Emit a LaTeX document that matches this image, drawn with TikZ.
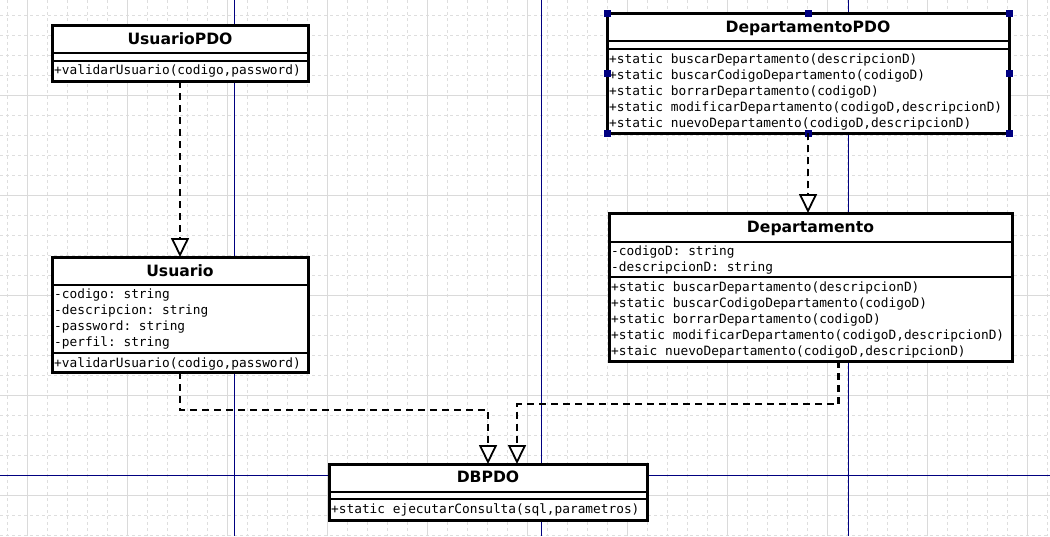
\documentclass[tikz,border=0pt]{standalone}
\usepackage{fontspec}
\setmainfont{DejaVu Sans}
\setmonofont{DejaVu Sans Mono}
\usetikzlibrary{arrows.meta}
\definecolor{gridgray}{RGB}{222,222,222}
\definecolor{gridsolid}{RGB}{218,218,218}
\definecolor{axisnavy}{RGB}{0,0,128}
\tikzset{
  classbox/.style={draw,line width=3pt,fill=white,inner sep=0pt,outer sep=0pt},
  classtitle/.style={font=\fontsize{15.6}{18}\selectfont\bfseries,anchor=base,inner sep=0pt},
  members/.style={font=\fontsize{12.8}{16}\selectfont\ttfamily,align=left,anchor=base west,inner sep=0pt},
  compline/.style={line width=2.6pt},
  dep/.style={line width=2.5pt,dash pattern=on 7pt off 5pt,
    -{Triangle[open,width=18pt,length=19pt,fill=white,line width=1.8pt]}}
}
\begin{document}
\begin{tikzpicture}[x=1pt,y=-1pt]
\useasboundingbox (0,0) rectangle (1050,536);
\fill[white] (0,0) rectangle (1050,536);
% grid
\foreach \x in {7,27,...,1047} \draw[gridgray,line width=.8pt,dash pattern=on 3pt off 3pt] (\x,0) -- (\x,536);
\foreach \y in {15,35,...,535} \draw[gridgray,line width=.8pt,dash pattern=on 3pt off 3pt] (0,\y) -- (1050,\y);
\foreach \x in {27,127,...,1027} \draw[gridsolid,line width=1pt] (\x,0) -- (\x,536);
\foreach \y in {95,195,...,495} \draw[gridsolid,line width=1pt] (0,\y) -- (1050,\y);
\foreach \x in {234,541,848} \draw[axisnavy,line width=1pt] (\x,0) -- (\x,536);
\draw[axisnavy,line width=1pt] (0,475) -- (1050,475);

% classes (multi-line texts are placed by their last baseline)
\node[classbox,minimum width=256pt,minimum height=56pt] (usuariopdo) at (180,53) {};
\draw[compline] (52,53) -- (308,53) (52,61) -- (308,61);
\node[classtitle] (usuariopdotitle) at (180,44) {UsuarioPDO};
\node[members] (usuariopdoops) at (54,74) {+validarUsuario(codigo,password)};

\node[classbox,minimum width=256pt,minimum height=115pt] (usuario) at (180,314.5) {};
\draw[compline] (52,285) -- (308,285) (52,353) -- (308,353);
\node[classtitle] (usuariotitle) at (180,276) {Usuario};
\node[members] (usuarioattrs) at (54,346) {-codigo: string\\-descripcion: string\\-password: string\\-perfil: string};
\node[members] (usuarioops) at (54,367) {+validarUsuario(codigo,password)};

\node[classbox,minimum width=402pt,minimum height=120pt] (deptopdo) at (808,73) {};
\draw[compline] (607,41) -- (1009,41) (607,49) -- (1009,49);
\node[classtitle] (deptopdotitle) at (808,32) {DepartamentoPDO};
\node[members] (deptopdoops) at (609,127) {+static buscarDepartamento(descripcionD)\\+static buscarCodigoDepartamento(codigoD)\\+static borrarDepartamento(codigoD)\\+static modificarDepartamento(codigoD,descripcionD)\\+static nuevoDepartamento(codigoD,descripcionD)};
\foreach \p in {north west,north,north east,west,east,south west,south,south east}
  \fill[axisnavy] ([shift={(-3.5,-3.5)}]deptopdo.\p) rectangle ++(7,7);

\node[classbox,minimum width=403pt,minimum height=148pt] (depto) at (810.5,287) {};
\draw[compline] (609,242) -- (1012,242) (609,277) -- (1012,277);
\node[classtitle] (deptotitle) at (810.5,232) {Departamento};
\node[members] (deptoattrs) at (611,271) {-codigoD: string\\-descripcionD: string};
\node[members] (deptoops) at (611,355) {+static buscarDepartamento(descripcionD)\\+static buscarCodigoDepartamento(codigoD)\\+static borrarDepartamento(codigoD)\\+static modificarDepartamento(codigoD,descripcionD)\\+staic nuevoDepartamento(codigoD,descripcionD)};

\node[classbox,minimum width=318pt,minimum height=56pt] (dbpdo) at (488,492) {};
\draw[compline] (329,492) -- (647,492) (329,499) -- (647,499);
\node[classtitle] (dbpdotitle) at (488,482) {DBPDO};
\node[members] (dbpdoops) at (331,513) {+static ejecutarConsulta(sql,parametros)};

% dependencies
\draw[dep] (usuariopdo.south) -- (usuario.north);
\draw[dep] (deptopdo.south) -- (deptopdo.south |- depto.north);
\draw[dep] (usuario.south) -- ++(0,38) -| (dbpdo.north);
\draw[dep] ([xshift=28pt]depto.south) -- ++(0,43) -| ([xshift=29pt]dbpdo.north);

\end{tikzpicture}
\end{document}
